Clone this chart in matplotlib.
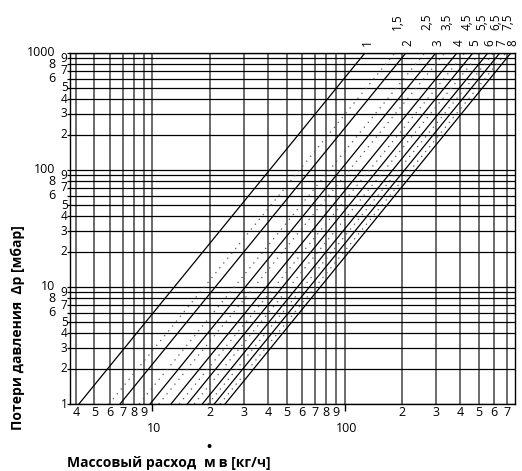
import matplotlib
matplotlib.use("Agg")
import matplotlib.pyplot as plt
from matplotlib.ticker import NullLocator, NullFormatter
from matplotlib.transforms import blended_transform_factory, offset_copy

plt.rcParams['font.family'] = ['Open Sans', 'DejaVu Sans']

# valve presetting curves: mass flow [kg/h] read at 1 mbar and at 1000 mbar
settings = ["1", "1,5", "2", "2,5", "3", "3,5", "4", "4,5",
            "5", "5,5", "6", "6,5", "7", "7,5", "8"]
m_at_1mbar = [4.15, 5.95, 6.79, 8.53, 9.73, 10.8, 12.5, 13.8,
              15.2, 16.5, 18.2, 19.5, 21.0, 22.5, 23.9]
m_at_1000mbar = [128, 183, 209, 262, 299, 333, 385, 423,
                 466, 507, 558, 599, 644, 692, 735]
dp_ends = [1, 1000]

# grid / tick values
x_grid = [4, 5, 6, 7, 8, 9, 10, 20, 30, 40, 50, 60, 70, 80, 90,
          100, 200, 300, 400, 500, 600, 700]
x_row1 = [4, 5, 6, 7, 8, 9, 20, 30, 40, 50, 60, 70, 80, 90,
          200, 300, 400, 500, 600, 700]
x_row2 = [10, 100]
y_grid = [1, 2, 3, 4, 5, 6, 7, 8, 9, 10, 20, 30, 40, 50, 60, 70, 80, 90,
          100, 200, 300, 400, 500, 600, 700, 800, 900, 1000]
y_inner = [1, 2, 3, 4, 5, 7, 9, 20, 30, 40, 50, 70, 90,
           200, 300, 400, 500, 700, 900]
y_outer = [6, 8, 10, 60, 80, 100, 600, 800, 1000]

PX = 0.72  # points per pixel at dpi 100
FS = 8.5

fig = plt.figure(figsize=(5.22, 4.71), dpi=100)
ax = fig.add_axes([70 / 522, 1 - 404 / 471, 445 / 522, (404 - 52.7) / 471])
ax.set_xscale('log')
ax.set_yscale('log')
ax.set_xlim(3.73, 770)
ax.set_ylim(1, 1000)

ax.vlines(x_grid, 1, 1000, color='#444444', lw=1.1, zorder=1)
ax.hlines(y_grid, 3.73, 770, color='black', lw=0.9, zorder=1)

for s, m1, m2 in zip(settings, m_at_1mbar, m_at_1000mbar):
    if ',' in s:
        ax.plot([m1, m2], dp_ends, color='#555555', lw=0.9,
                ls=(0, (1, 4)), zorder=2)
        dy = 31
    else:
        ax.plot([m1, m2], dp_ends, color='black', lw=0.9, zorder=3)
        dy = 9.7
    ax.annotate(s, xy=(m2, 1000), xytext=(2 * PX, dy * PX),
                textcoords='offset points', rotation=90,
                ha='center', va='center', fontsize=FS, annotation_clip=False)

for sp in ax.spines.values():
    sp.set_color('black')
    sp.set_linewidth(1.0)

# ticks: long ones at decades on x, short outward on y
ax.xaxis.set_major_locator(matplotlib.ticker.FixedLocator(x_row2))
ax.xaxis.set_minor_locator(NullLocator())
ax.xaxis.set_major_formatter(NullFormatter())
ax.xaxis.set_minor_formatter(NullFormatter())
ax.tick_params(axis='x', direction='out', length=7 * PX, width=1.0)
ax.yaxis.set_major_locator(matplotlib.ticker.FixedLocator(y_grid))
ax.yaxis.set_minor_locator(NullLocator())
ax.yaxis.set_major_formatter(NullFormatter())
ax.yaxis.set_minor_formatter(NullFormatter())
ax.tick_params(axis='y', direction='out', length=3 * PX, width=0.9)

tx = blended_transform_factory(ax.transData, ax.transAxes)
ty = blended_transform_factory(ax.transAxes, ax.transData)


def lab(v):
    s = str(v)
    return s if v in (10, 100, 1000) else s[0]


for v in x_row1:
    ax.text(v, 0, lab(v), transform=offset_copy(tx, fig, y=-8 * PX, units='points'),
            ha='center', va='center', fontsize=FS + 0.5)
for v in x_row2:
    ax.text(v, 0, lab(v), transform=offset_copy(tx, fig, x=2 * PX, y=-24 * PX, units='points'),
            ha='center', va='center', fontsize=FS + 0.5)
for v in y_inner:
    ax.text(0, v, lab(v), transform=offset_copy(ty, fig, x=-2.5 * PX, units='points'),
            ha='right', va='center', fontsize=FS)
for v in y_outer:
    ax.text(0, v, lab(v), transform=offset_copy(ty, fig, x=-14.5 * PX, units='points'),
            ha='right', va='center', fontsize=FS + 0.5)

fig.text(18 / 522, 1 - 328 / 471, "Потери давления  Δp [мбар]", rotation=90,
         ha='center', va='center', fontsize=10, fontweight='bold')

# x label with the dot above the m
r = fig.canvas.get_renderer()
t1 = fig.text(67 / 522, 1 - 463 / 471, "Массовый расход  ", ha='left', va='center',
              fontsize=10, fontweight='bold')
bb = t1.get_window_extent(r)
t2 = fig.text(bb.x1 / 522, 1 - 463 / 471, "м", ha='left', va='center',
              fontsize=10, fontweight='bold')
bb2 = t2.get_window_extent(r)
fig.text(bb2.x1 / 522, 1 - 463 / 471, " в [кг/ч]", ha='left', va='center',
         fontsize=10, fontweight='bold')
fig.text((bb2.x0 + bb2.x1) / 2 / 522, 1 - 447 / 471, "•", ha='center', va='center',
         fontsize=10, fontweight='bold')

fig.savefig("out.png", dpi=100)
